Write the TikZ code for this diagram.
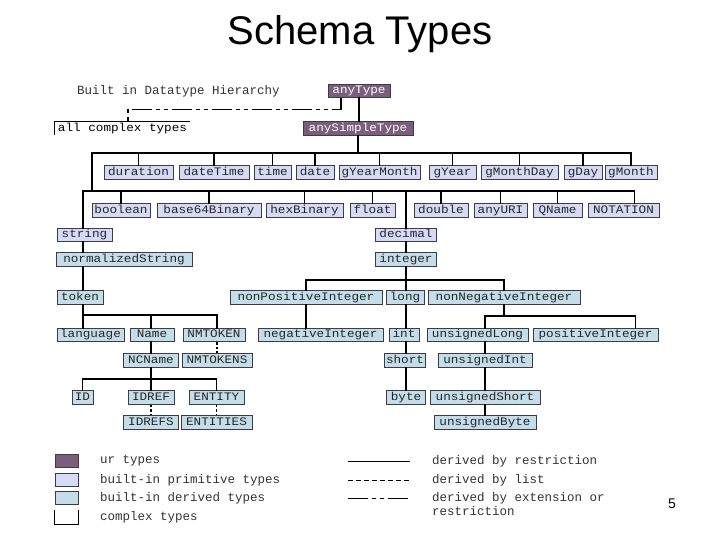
\documentclass[tikz,border=0pt]{standalone}
\usepackage{fontspec}
\usepackage{tikz}
\usetikzlibrary{calc}
\newfontfamily\monofam{Liberation Mono}
\newfontfamily\boxfam[FakeStretch=1.1]{Liberation Mono}
\newfontfamily\sansfam{Liberation Sans}
\definecolor{urpurple}{RGB}{124,94,124}
\definecolor{primblue}{RGB}{214,218,246}
\definecolor{derblue}{RGB}{196,221,232}
\definecolor{boxline}{RGB}{60,60,70}
\tikzset{
  typebox/.style={draw=boxline, line width=0.7pt, inner sep=0pt, minimum height=13.5pt,
    text height=7.5pt, text depth=2.2pt,
    font=\boxfam\fontsize{11.5}{13}\selectfont, text=black!85},
  urbox/.style={typebox, fill=urpurple, text=white},
  primbox/.style={typebox, fill=primblue},
  derbox/.style={typebox, fill=derblue},
  cplxbox/.style={inner sep=0pt, minimum height=13.5pt, text height=7.5pt, text depth=2.2pt,
    font=\boxfam\fontsize{11.5}{13}\selectfont},
  restr/.style={line width=1.8pt, line cap=rect},
  listline/.style={line width=1.8pt, dash pattern=on 2.5pt off 2pt},
  extline/.style={line width=1.5pt, dash pattern=on 20pt off 4pt on 4pt off 4pt on 4pt off 4pt},
  keyline/.style={line width=0.9pt},
  legtext/.style={font=\monofam\fontsize{12.5}{14}\selectfont, text=black!80,
    anchor=west, inner sep=0pt},
}

\begin{document}
\begin{tikzpicture}[x=1pt, y=-1pt]
  \useasboundingbox (0,0) rectangle (720,540);

  \node[font=\sansfam\fontsize{40}{44}\selectfont] (title) at (360,34) {Schema Types};
  \node[legtext] (hier) at (77,91) {Built in Datatype Hierarchy};

  % ur types and complex types
  \node[urbox, minimum width=62] (anyType) at (359,91) {anyType};
  \node[urbox, minimum width=110] (anySimpleType) at (358,128.5) {anySimpleType};
  \node[cplxbox, minimum width=135] (allComplex) at (122.5,128.5) {all complex types};
  \draw[line width=0.8pt] (allComplex.south west) |- (allComplex.north east);

  % primitive types
  \foreach \nm/\cx/\w in {duration/138.5/69, dateTime/214/70, time/272.5/37,
      date/315/38, gYearMonth/379.5/81, gYear/452.5/47, gMonthDay/519.5/77,
      gDay/583/38, gMonth/631/52} {
    \node[primbox, minimum width=\w] (\nm) at (\cx,172.5) {\nm};
  }
  \foreach \nm/\cx/\w in {boolean/121/58, base64Binary/209/104, hexBinary/304.5/77,
      float/372.5/45, double/441/54, anyURI/500.5/53, QName/557.5/49,
      NOTATION/623.5/71} {
    \node[primbox, minimum width=\w] (\nm) at (\cx,210.5) {\nm};
  }
  \node[primbox, minimum width=55] (string) at (84.5,235) {string};
  \node[primbox, minimum width=61] (decimal) at (406,235) {decimal};

  % derived types
  \foreach \nm/\cx/\cy/\w in {normalizedString/124/259.5/136, integer/406/259.5/61,
      token/80/297.5/46, nonPositiveInteger/306/297.5/152, long/405/297.5/38,
      nonNegativeInteger/504/297.5/152,
      language/90.5/335/67, Name/152/335/44, NMTOKEN/214/335/62,
      negativeInteger/320.5/335/125, int/404/335/30, unsignedLong/477.5/335/101,
      positiveInteger/595.5/335/125,
      NCName/151/360.5/55, NMTOKENS/217/360.5/70, short/405/360.5/41,
      unsignedInt/485/360.5/94,
      ID/82.5/397.5/21, IDREF/151/397.5/46, ENTITY/216.5/397.5/55,
      byte/406/397.5/39, unsignedShort/485/397.5/110,
      IDREFS/151/422.5/55, ENTITIES/216.5/422.5/71, unsignedByte/485/422.5/102} {
    \node[derbox, minimum width=\w] (\nm) at (\cx,\cy) {\nm};
  }

  % hierarchy lines
  \draw[restr] (anyType.south) -- (anyType.south |- anySimpleType.north);
  \draw[extline] ([xshift=-18pt]anyType.south)
    |- ([xshift=5.5pt, yshift=12pt]allComplex.north) -- ([xshift=5.5pt]allComplex.north);

  \coordinate (busA) at (92,153);
  \coordinate (busB) at (83,191);
  \draw[restr] (anySimpleType.south) -- (anySimpleType.south |- busA);
  \draw[restr] (busA |- busB) -- (busA) -- (gMonth.north |- busA);
  \foreach \nm in {duration,dateTime,time,date,gYearMonth,gYear,gMonthDay,gDay,gMonth}
    \draw[restr] (\nm.north) -- (\nm.north |- busA);
  \draw[restr] (busB) -- ([xshift=11pt]NOTATION.north |- busB)
    -- ([xshift=11pt]NOTATION.north);
  \foreach \nm in {boolean,base64Binary,hexBinary,float,double,anyURI,QName,decimal}
    \draw[restr] (\nm.north) -- (\nm.north |- busB);

  % string branch
  \coordinate (busC) at (83,315);
  \coordinate (busD) at (82.5,379);
  \draw[restr] (busB) -- (busB |- string.north);
  \draw[restr] (busB |- string.south) -- (busB |- normalizedString.north);
  \draw[restr] (busB |- normalizedString.south) -- (busB |- token.north);
  \draw[restr] (busB |- token.south) -- (busC) -- (NMTOKENS.north |- busC);
  \draw[restr] (busC) -- (busC |- language.north);
  \draw[restr] (NCName.north |- busC) -- (NCName.north |- Name.north);
  \draw[restr] (NMTOKENS.north |- busC) -- (NMTOKENS.north |- NMTOKEN.north);
  \draw[restr] (Name.south -| NCName.north) -- (NCName.north);
  \draw[listline] (NMTOKENS.north |- NMTOKEN.south) -- (NMTOKENS.north);
  \draw[restr] (NCName.south) -- (NCName.south |- busD);
  \draw[restr] (ID.north |- busD) -- (ENTITY.north |- busD);
  \foreach \nm in {ID,IDREF,ENTITY}
    \draw[restr] (\nm.north) -- (\nm.north |- busD);
  \draw[listline] (IDREF.south) -- (IDREFS.north);
  \draw[listline] (ENTITY.south) -- (ENTITIES.north);

  % decimal branch
  \coordinate (busE) at (0,280);
  \coordinate (busF) at (0,316);
  \draw[restr] (decimal.south) -- (decimal.south |- integer.north);
  \draw[restr] (integer.south) -- (integer.south |- long.north);
  \draw[restr] (nonPositiveInteger.north |- busE) -- (nonNegativeInteger.north |- busE);
  \draw[restr] (nonPositiveInteger.north) -- (nonPositiveInteger.north |- busE);
  \draw[restr] (nonNegativeInteger.north) -- (nonNegativeInteger.north |- busE);
  \draw[restr] (nonPositiveInteger.south) -- (nonPositiveInteger.south |- negativeInteger.north);
  \draw[restr] (integer.south |- long.south) -- (integer.south |- int.north);
  \draw[restr] (integer.south |- int.south) -- (integer.south |- short.north);
  \draw[restr] (integer.south |- short.south) -- (integer.south |- byte.north);
  \draw[restr] (nonNegativeInteger.south) -- (nonNegativeInteger.south |- busF);
  \draw[restr] (unsignedInt.north |- busF) -- ([xshift=40pt]positiveInteger.north |- busF)
    -- ([xshift=40pt]positiveInteger.north);
  \draw[restr] (unsignedInt.north |- busF) -- (unsignedInt.north |- unsignedLong.north);
  \draw[restr] (unsignedInt.north |- unsignedLong.south) -- (unsignedInt.north);
  \draw[restr] (unsignedInt.south) -- (unsignedShort.north);
  \draw[restr] (unsignedShort.south) -- (unsignedByte.north);

  % legend
  \node[typebox, fill=urpurple, minimum width=23] (keyUr) at (66.5,461) {};
  \node[typebox, fill=primblue, minimum width=23] (keyPrim) at (66.5,480) {};
  \node[typebox, fill=derblue, minimum width=23] (keyDer) at (66.5,498) {};
  \node[cplxbox, minimum width=23] (keyCplx) at (66.5,517) {};
  \draw[line width=0.8pt] (keyCplx.north west) |- (keyCplx.south east) -- (keyCplx.north east);
  \node[legtext] (keyUrTxt) at (100,461) {ur types};
  \node[legtext] (keyPrimTxt) at (100,480) {built-in primitive types};
  \node[legtext] (keyDerTxt) at (100,498) {built-in derived types};
  \node[legtext] (keyCplxTxt) at (100,517) {complex types};

  \coordinate (keyRestr) at (348,461);
  \coordinate (keyList) at (348,480);
  \coordinate (keyExt) at (348,498);
  \draw[keyline] (keyRestr) -- ++(62,0);
  \draw[keyline, dash pattern=on 5pt off 3pt] (keyList) -- ++(62,0);
  \draw[keyline, dash pattern=on 20pt off 4pt on 4pt off 4pt on 4pt off 4pt] (keyExt) -- ++(62,0);
  \node[legtext] (keyRestrTxt) at (432,461) {derived by restriction};
  \node[legtext] (keyListTxt) at (432,480) {derived by list};
  \node[legtext] (keyExtTxt) at (432,498) {derived by extension or};
  \node[legtext] (keyExtTxt2) at (432,511) {restriction};

  \node[font=\sansfam\fontsize{14}{16}\selectfont] (pageno) at (672,504) {5};
\end{tikzpicture}
\end{document}
